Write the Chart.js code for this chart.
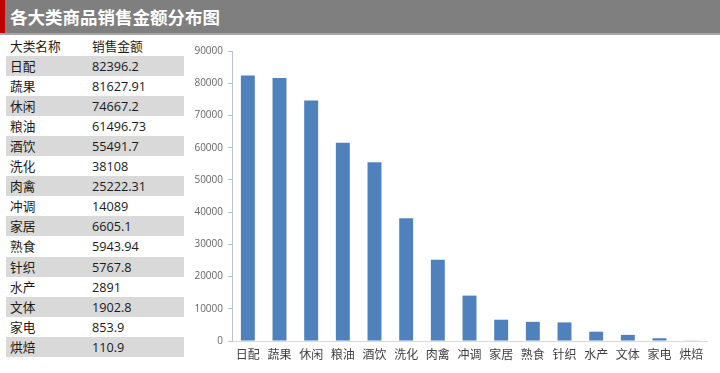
<!DOCTYPE html>
<html><head><meta charset="utf-8">
<script src="https://cdn.jsdelivr.net/npm/chart.js@4/dist/chart.umd.min.js"></script>
<style>
html,body{margin:0;padding:0;background:#fff;width:720px;height:373px;overflow:hidden;font-family:"Open Sans","Noto Sans CJK SC",sans-serif;}
#title{position:absolute;left:0;top:0;width:720px;height:33px;background:#7f7f7f;border-bottom:2px solid #a6a6a6;}
#title .bar{position:absolute;left:0;top:0;width:5px;height:33px;background:#c00000;}
#title .txt{position:absolute;left:10px;top:4px;color:#fff;font-size:17.5px;font-weight:bold;line-height:25px;font-family:"Noto Sans CJK SC",sans-serif;}
#tbl{position:absolute;left:6px;top:36px;width:178px;}
.row{position:relative;height:20.05px;font-size:12.7px;color:#1a1a1a;line-height:20px;}
.row.g{background:#d9d9d9;}
.row span{position:absolute;top:0;}
.row .c1{left:4px;font-family:"Noto Sans CJK SC",sans-serif;}
.row .c2{left:86px;}
#wrap{position:absolute;left:190px;top:40px;width:530px;height:333px;}
</style></head>
<body>
<div id="title"><div class="bar"></div><div class="txt">各大类商品销售金额分布图</div></div>
<div id="tbl"></div>
<div id="wrap"><canvas id="c"></canvas></div>
<script>
const headers = ["大类名称", "销售金额"];
const categories = ["日配","蔬果","休闲","粮油","酒饮","洗化","肉禽","冲调","家居","熟食","针织","水产","文体","家电","烘焙"];
const salesText = ["82396.2","81627.91","74667.2","61496.73","55491.7","38108","25222.31","14089","6605.1","5943.94","5767.8","2891","1902.8","853.9","110.9"];
const sales = salesText.map(Number);
const yTicksMax = 90000;
const yTickStep = 10000;

const tbl = document.getElementById('tbl');
let h = '<div class="row"><span class="c1">'+headers[0]+'</span><span class="c2" style="font-family:\'Noto Sans CJK SC\'">'+headers[1]+'</span></div>';
categories.forEach((c,i)=>{
  h += '<div class="row'+(i%2===0?' g':'')+'"><span class="c1">'+c+'</span><span class="c2">'+salesText[i]+'</span></div>';
});
tbl.innerHTML = h;

const axisColor = '#b7c4d6';
new Chart(document.getElementById('c'), {
  type: 'bar',
  data: { labels: categories, datasets: [{ data: sales, backgroundColor: '#4f81bd', borderWidth: 0, categoryPercentage: 1, barPercentage: 0.44 }] },
  options: {
    responsive: true, maintainAspectRatio: false, animation: false,
    layout: { padding: { top: 10, right: 13, left: 0, bottom: 0 } },
    plugins: { legend: { display: false }, tooltip: { enabled: false } },
    scales: {
      x: {
        grid: { display: false, drawTicks: false },
        border: { color: '#d9d9d9', width: 1 },
        ticks: { color: '#404040', font: { size: 12, family: '"Noto Sans CJK SC", sans-serif' }, padding: 6, maxRotation: 0, autoSkip: false },
        afterFit: s => { s.height = 32; }
      },
      y: {
        min: 0, max: yTicksMax,
        grid: { drawOnChartArea: false, drawTicks: true, tickLength: 4, color: axisColor },
        border: { color: axisColor, width: 1 },
        ticks: { stepSize: yTickStep, color: '#666666', font: { size: 10, family: '"Open Sans", sans-serif' }, padding: 5, callback: v => String(v) },
        afterFit: s => { s.width = 42; }
      }
    }
  }
});
</script>
</body></html>
